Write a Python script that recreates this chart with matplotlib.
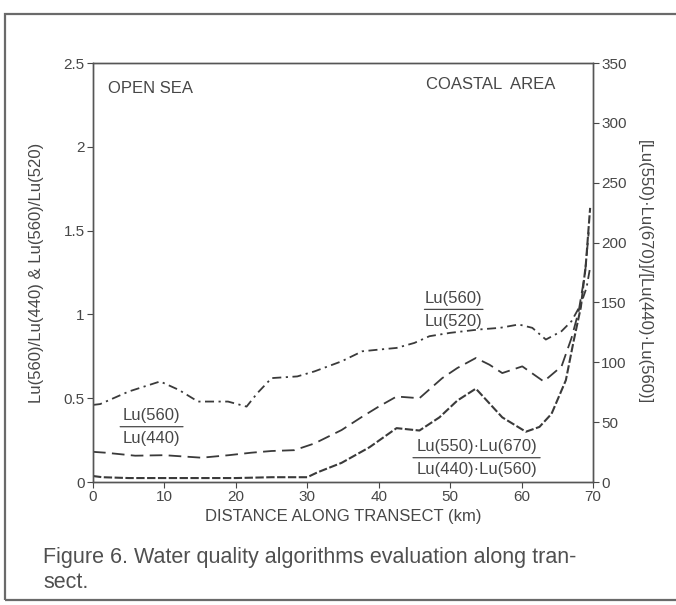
import matplotlib.pyplot as plt
from matplotlib.patches import Rectangle

plt.rcParams['font.family'] = ['Liberation Sans', 'DejaVu Sans']

# Lu(560)/Lu(520), left axis
km_520 = [0, 1, 5, 9.4, 12, 14.7, 18.9, 21.5, 23, 25, 28.6, 31, 34.8, 37.7, 40, 42.5,
          45, 47.1, 50, 54, 57, 59.6, 61.5, 63.4, 65.6, 67, 68.3, 69.1, 69.6]
ratio_520 = [0.46, 0.465, 0.54, 0.60, 0.55, 0.48, 0.48, 0.45, 0.53, 0.62, 0.63, 0.66, 0.72,
             0.78, 0.79, 0.80, 0.83, 0.87, 0.89, 0.91, 0.92, 0.94, 0.92, 0.85, 0.90, 0.96,
             1.06, 1.16, 1.28]

# Lu(560)/Lu(440), left axis
km_440 = [0, 1.7, 5.9, 10, 15.2, 19, 22.2, 25, 28.2, 31, 34.8, 37.7, 40, 42.5, 45.7, 48.9,
          51, 53.6, 55.5, 57.3, 60.1, 63.1, 65.6, 67, 68, 68.9, 69.4]
ratio_440 = [0.18, 0.175, 0.157, 0.16, 0.145, 0.16, 0.175, 0.185, 0.19, 0.23, 0.31, 0.39,
             0.45, 0.51, 0.50, 0.62, 0.68, 0.74, 0.70, 0.65, 0.69, 0.60, 0.69, 0.86, 1.02,
             1.25, 1.49]

# [Lu(550)Lu(670)]/[Lu(440)Lu(560)], right axis
km_prod = [0, 1.3, 5, 10, 15, 20, 25, 30, 31.4, 34.8, 38.7, 42.5, 45.7, 48.5, 51, 53.6,
           57.3, 60.6, 62.5, 64.2, 66.2, 67.3, 68.3, 69, 69.6]
ratio_prod = [5, 4, 3.3, 3.3, 3.3, 3.3, 4, 4, 8, 16, 29, 45, 43, 54, 68, 78, 54, 42, 46,
              57, 85, 118, 146, 182, 229]

x_ticks = [0, 10, 20, 30, 40, 50, 60, 70]
left_ticks = [0, 0.5, 1, 1.5, 2, 2.5]
left_labels = ['0', '0.5', '1', '1.5', '2', '2.5']
right_ticks = [0, 50, 100, 150, 200, 250, 300, 350]

ink = '#3a3a3a'
txt = '#474747'

fig = plt.figure(figsize=(6.76, 6.05), dpi=100)
ax = fig.add_axes([0.1376, 0.2033, 0.7396, 0.6925])
ax2 = ax.twinx()

ax.plot(km_520, ratio_520, color=ink, lw=1.3, ls=(0, (5, 2.5, 1.2, 2.5)))
ax.plot(km_440, ratio_440, color=ink, lw=1.3, ls=(0, (7, 3.5)))
ax2.plot(km_prod, ratio_prod, color=ink, lw=1.5, ls=(0, (4, 1.2)))

ax.set_xlim(0, 70)
ax.set_ylim(0, 2.5)
ax2.set_ylim(0, 350)
ax.set_xticks(x_ticks)
ax.set_yticks(left_ticks)
ax.set_yticklabels(left_labels)
ax2.set_yticks(right_ticks)

for a in (ax, ax2):
    for s in a.spines.values():
        s.set_color('#555555')
        s.set_linewidth(1.0)
    a.tick_params(colors=txt, labelcolor=txt, labelsize=11, length=4, width=0.8,
                  direction='out', pad=2)

ax.set_xlabel('DISTANCE ALONG TRANSECT (km)', fontsize=12, color=txt, labelpad=3)
ax.set_ylabel('Lu(560)/Lu(440) & Lu(560)/Lu(520)', fontsize=12, color=txt, labelpad=14)
ax2.set_ylabel('[Lu(550)·Lu(670)]/[Lu(440)·Lu(560)]', fontsize=12, color=txt,
               rotation=270, labelpad=18)

ax.text(2.1, 2.35, 'OPEN SEA', fontsize=12, color=txt, va='center')
ax.text(46.6, 2.37, 'COASTAL  AREA', fontsize=12, color=txt, va='center')


def fraction(x0, x1, y, num, den):
    xc = (x0 + x1) / 2
    ax.text(xc, y + 0.065, num, fontsize=12, color=txt, ha='center', va='center')
    ax.text(xc, y - 0.07, den, fontsize=12, color=txt, ha='center', va='center')
    ax.annotate('', xy=(x1, y), xytext=(x0, y),
                arrowprops=dict(arrowstyle='-', color=txt, lw=0.9, shrinkA=0, shrinkB=0))


fraction(46.4, 54.6, 1.03, 'Lu(560)', 'Lu(520)')
fraction(3.8, 12.6, 0.33, 'Lu(560)', 'Lu(440)')
fraction(44.8, 62.6, 0.145, 'Lu(550)·Lu(670)', 'Lu(440)·Lu(560)')

fig.text(0.064, 0.079, 'Figure 6. Water quality algorithms evaluation along tran-',
         fontsize=15.5, color='#505050', va='center')
fig.text(0.064, 0.037, 'sect.', fontsize=15.5, color='#505050', va='center')

fig.patches.append(Rectangle((0.0074, 0.0083), 1.2, 0.9686, transform=fig.transFigure,
                             fill=False, edgecolor='#6a6a6a', lw=1.6))

fig.savefig('out.png', dpi=100)
